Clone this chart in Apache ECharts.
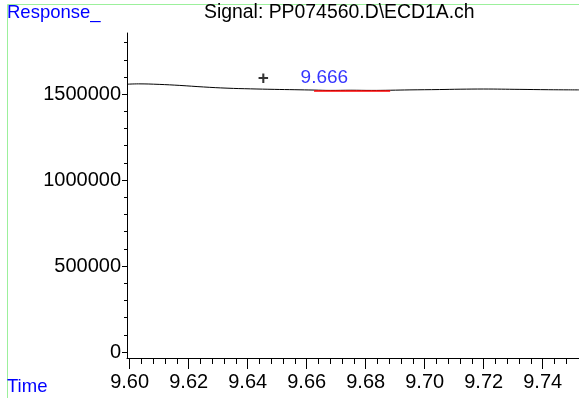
<!DOCTYPE html>
<html>
<head>
<meta charset="utf-8">
<script src="https://cdn.jsdelivr.net/npm/echarts@6/dist/echarts.min.js"></script>
<style>
html,body{margin:0;padding:0;background:#fff;}
#c{width:579px;height:398px;}
</style>
</head>
<body>
<div id="c"></div>
<script>
// ---- data ----
var times = [9.5991, 9.603, 9.610, 9.617, 9.625, 9.633, 9.641, 9.649, 9.656, 9.6625, 9.668, 9.675, 9.682, 9.6883, 9.695, 9.705, 9.712, 9.720, 9.732, 9.742, 9.7523];
var response = [1558000, 1560000, 1557000, 1551000, 1542000, 1535000, 1531000, 1528000, 1526000, 1524000, 1522000, 1523000, 1522000, 1523000, 1525000, 1527000, 1529000, 1530000, 1528000, 1526000, 1525000];
var baselineTimes = [9.6625, 9.6883];
var baselineValues = [1519000, 1519000];
var peakTime = [9.666];
var peakLabelValue = [1524000];
var markerTime = [9.6453];
var markerValue = [1528000];
var xMajorTicks = [9.60, 9.62, 9.64, 9.66, 9.68, 9.70, 9.72, 9.74];
var xMinorTicks = [9.604, 9.608, 9.612, 9.616, 9.624, 9.628, 9.632, 9.636, 9.644, 9.648, 9.652, 9.656, 9.664, 9.668, 9.672, 9.676, 9.684, 9.688, 9.692, 9.696, 9.704, 9.708, 9.712, 9.716, 9.724, 9.728, 9.732, 9.736, 9.744, 9.748];
var yMajorTicks = [0, 500000, 1000000, 1500000];
var yMinorTicks = [100000, 200000, 300000, 400000, 600000, 700000, 800000, 900000, 1100000, 1200000, 1300000, 1400000, 1600000, 1700000, 1800000];
var titleText = 'Signal: PP074560.D\\ECD1A.ch';

var xMin = 9.5991, xMax = 9.7523, yMin = -35000, yMax = 1856000;
var FONT = '"Liberation Sans", Arial, sans-serif';
var FS = 20;

var chart = echarts.init(document.getElementById('c'), null, {renderer: 'canvas'});
function zip(a, b) { return a.map(function (v, i) { return [v, b[i]]; }); }

chart.setOption({
  animation: false,
  backgroundColor: '#fff',
  textStyle: {fontFamily: FONT},
  graphic: [
    {type: 'rect', left: 5, top: 2, shape: {width: 700, height: 500}, style: {fill: 'none', stroke: '#9cf09c', lineWidth: 1}, silent: true},
    {type: 'text', left: 7, top: 3, style: {text: 'Response_', fill: '#0000ff', font: '18.5px ' + FONT}},
    {type: 'text', left: 7, top: 377, style: {text: 'Time', fill: '#0000ff', font: '18.5px ' + FONT}},
    {type: 'text', left: 204, top: 3, style: {text: titleText, fill: '#000', font: '19.4px ' + FONT}}
  ],
  grid: {left: 127, top: 33, right: 0, bottom: 40},
  xAxis: [
    {type: 'value', min: xMin, max: xMax, splitLine: {show: false},
      axisLine: {show: true, onZero: false, lineStyle: {color: '#000', width: 1}},
      axisTick: {show: true, customValues: xMajorTicks, length: 11, lineStyle: {color: '#000'}},
      axisLabel: {customValues: xMajorTicks, color: '#000', fontSize: FS, fontFamily: FONT, margin: 14,
        formatter: function (v) { return v.toFixed(2); }}},
    {type: 'value', min: xMin, max: xMax, splitLine: {show: false}, position: 'bottom',
      axisLine: {show: false, onZero: false},
      axisTick: {show: true, customValues: xMinorTicks, length: 6, lineStyle: {color: '#000'}},
      axisLabel: {show: false}}
  ],
  yAxis: [
    {type: 'value', min: yMin, max: yMax, splitLine: {show: false},
      axisLine: {show: true, onZero: false, lineStyle: {color: '#000', width: 1}},
      axisTick: {show: true, customValues: yMajorTicks, length: 5, lineStyle: {color: '#000'}},
      axisLabel: {customValues: yMajorTicks, color: '#000', fontSize: FS, fontFamily: FONT, margin: 6,
        formatter: function (v) { return String(v); }}},
    {type: 'value', min: yMin, max: yMax, splitLine: {show: false}, position: 'left',
      axisLine: {show: false, onZero: false},
      axisTick: {show: true, customValues: yMinorTicks, length: 3, lineStyle: {color: '#000'}},
      axisLabel: {show: false}}
  ],
  series: [
    {type: 'line', xAxisIndex: 0, yAxisIndex: 0, data: zip(times, response), smooth: 0.4, showSymbol: false,
      lineStyle: {color: '#000', width: 1}, z: 2},
    {type: 'line', xAxisIndex: 0, yAxisIndex: 0, data: zip(baselineTimes, baselineValues), showSymbol: false,
      lineStyle: {color: '#ff0000', width: 1.5}, z: 3},
    {type: 'scatter', xAxisIndex: 0, yAxisIndex: 0, data: zip(peakTime, peakLabelValue), symbolSize: 0,
      label: {show: true, position: 'top', distance: 3, formatter: function (p) { return p.value[0].toFixed(3); },
        color: '#0000ff', fontSize: 19, fontFamily: FONT}},
    {type: 'scatter', xAxisIndex: 0, yAxisIndex: 0, data: zip(markerTime, markerValue), symbolSize: 0,
      label: {show: true, position: 'top', distance: 1, formatter: '+', color: '#000', fontSize: 19, fontWeight: 'bold', fontFamily: FONT}}
  ]
});
</script>
</body>
</html>
